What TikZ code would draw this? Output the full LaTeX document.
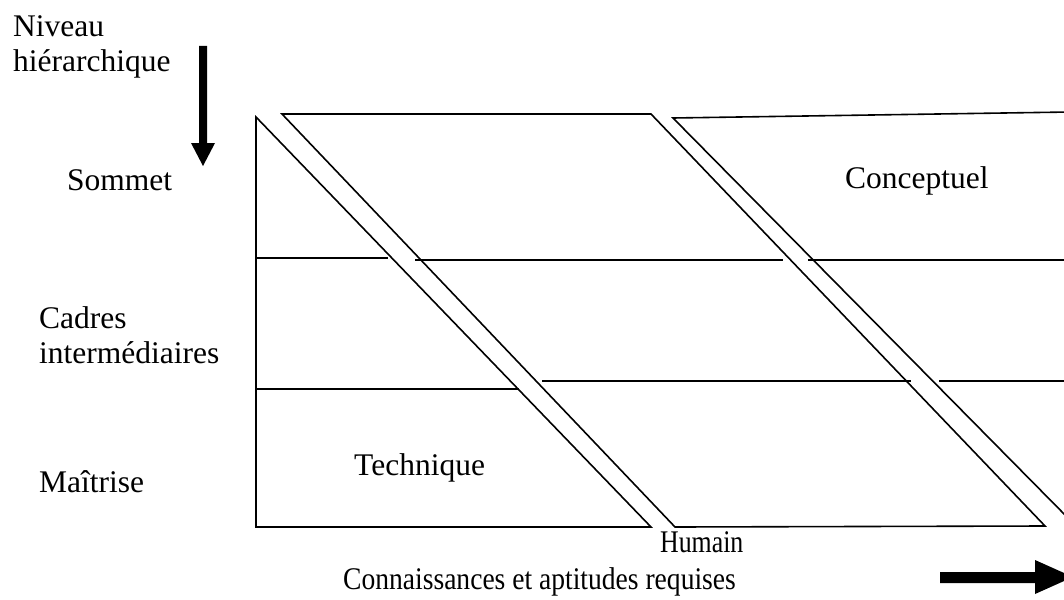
\documentclass[tikz,border=0pt]{standalone}
\usepackage{fontspec}
\setmainfont{Liberation Serif}
\begin{document}
\begin{tikzpicture}[x=1pt,y=-1pt,
  lbl/.style={anchor=base west, inner sep=0pt, font=\fontsize{31.5}{36}\selectfont},
  edge/.style={line width=1.6pt, line join=miter, draw=black},
  bigarrow/.style={fill=black, draw=none}]
\clip (0,0) rectangle (1064,599);
\fill[white] (0,0) rectangle (1064,599);

% Technique triangle
\draw[edge] (256,117) -- (651,527) -- (256,527) -- cycle;
% Humain parallelogram
\draw[edge] (282,114) -- (651,114) -- (1045,526) -- (675,527) -- cycle;
% Conceptuel band (cut at right edge)
\draw[edge] (1070,112) -- (673,118) -- (1070,520);

% upper level separators
\draw[edge] (256,258) -- (388,258);
\draw[edge] (415,260) -- (783,260);
\draw[edge] (808,260) -- (1070,260);
% lower level separators
\draw[edge] (256,389) -- (519,389);
\draw[edge] (542,381) -- (911,381);
\draw[edge] (939,381) -- (1070,381);

% arrows
\fill[bigarrow] (199,46) -- (207,46) -- (207,143) -- (215,143) -- (203,166) -- (191,143) -- (199,143) -- cycle;
\fill[bigarrow] (940,572) -- (1035,572) -- (1035,560) -- (1073,577) -- (1035,594) -- (1035,583) -- (940,583) -- cycle;

% labels
\node[lbl] (niv) at (13,37) {Niveau};
\node[lbl] (hie) at (13,72) {hiérarchique};
\node[lbl] (som) at (67,190) {Sommet};
\node[lbl] (cad) at (39,328) {Cadres};
\node[lbl] (int) at (39,363) {intermédiaires};
\node[lbl] (mai) at (39,492) {Maîtrise};
\node[lbl] (tec) at (354,475) {Technique};
\node[lbl] (con) at (845,188) {Conceptuel};
\node[lbl, xscale=0.82] (hum) at (660,552) {Humain};
\node[lbl, xscale=0.875] (car) at (343,589) {Connaissances et aptitudes requises};
\end{tikzpicture}
\end{document}
